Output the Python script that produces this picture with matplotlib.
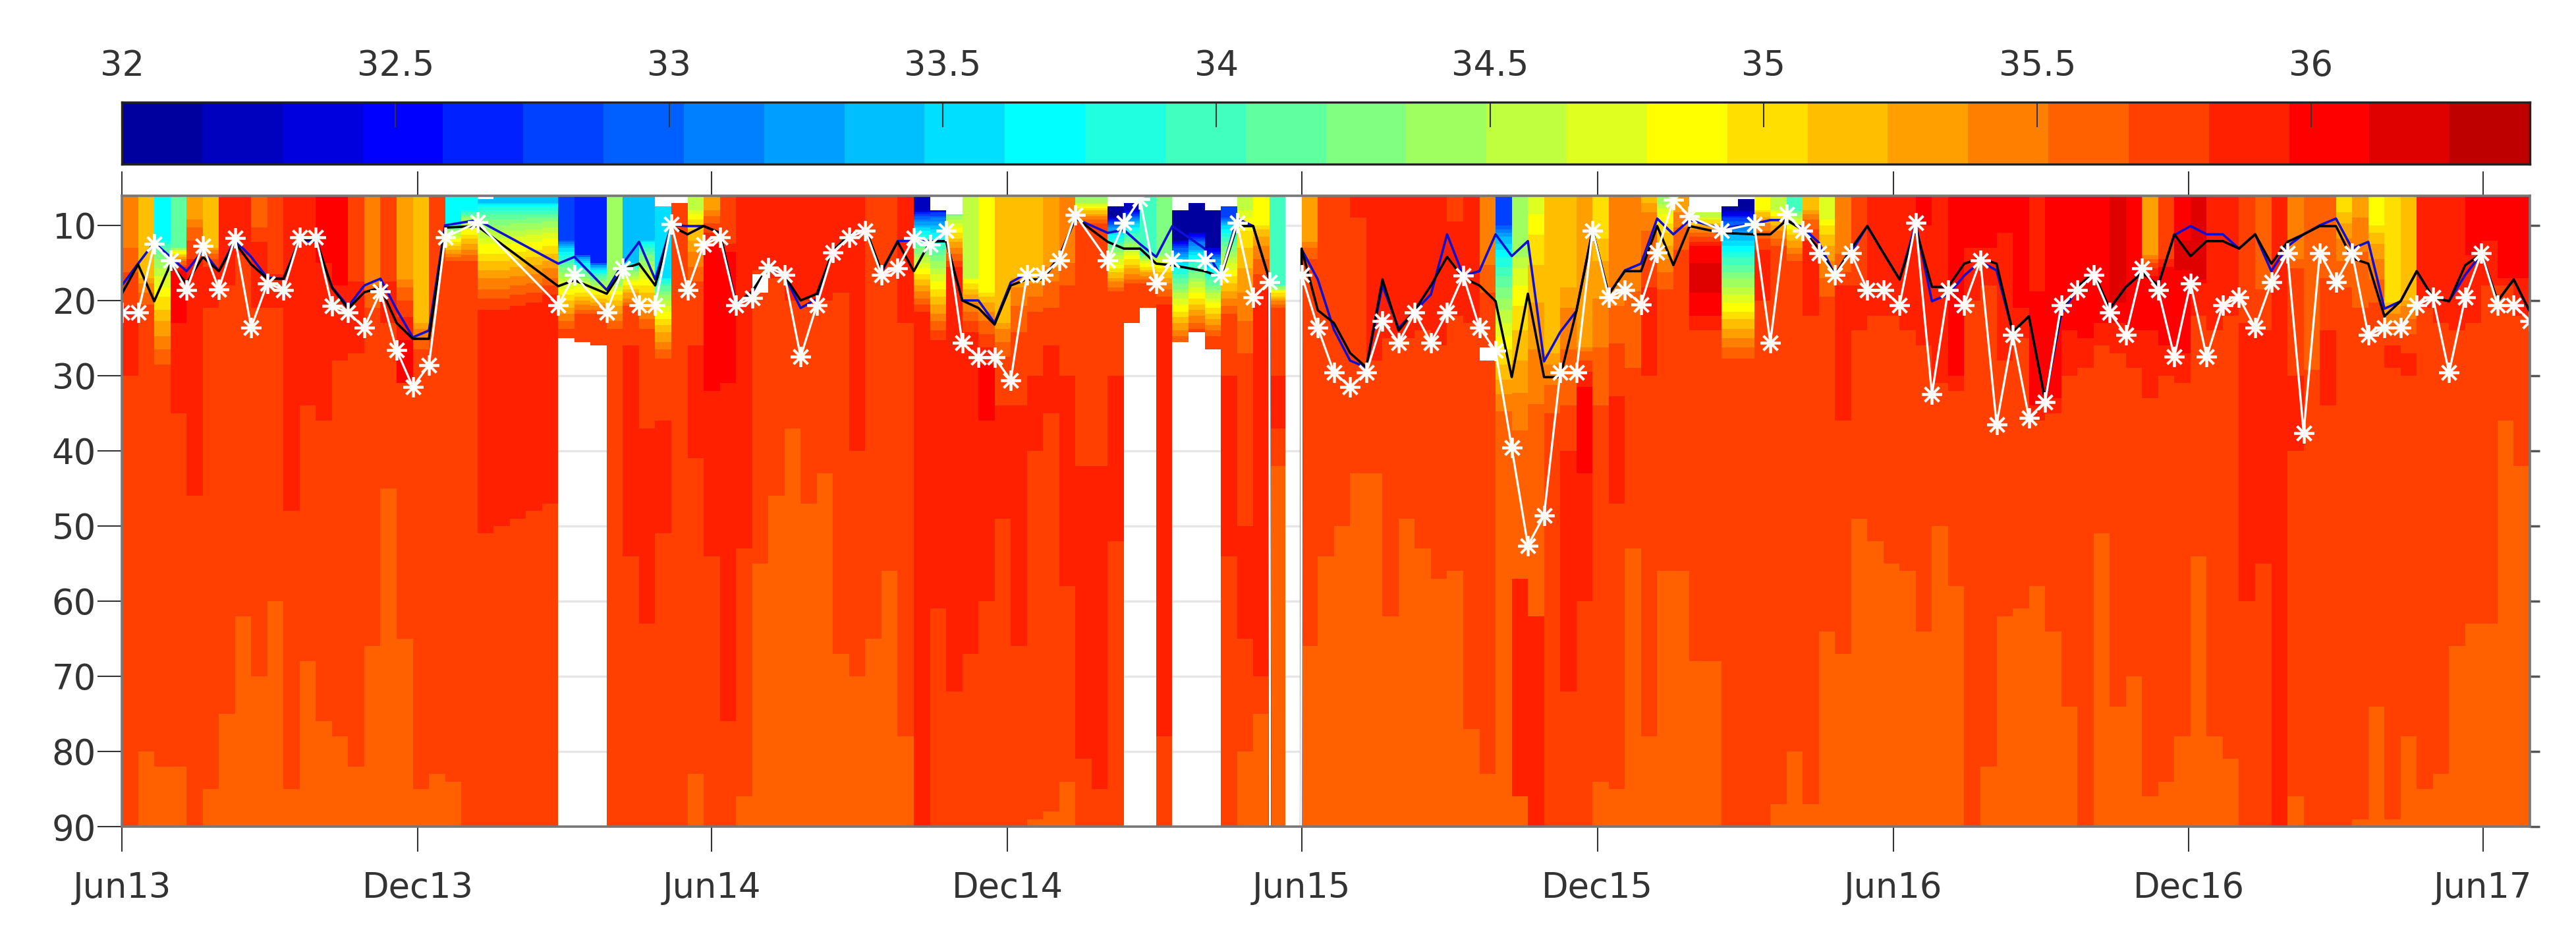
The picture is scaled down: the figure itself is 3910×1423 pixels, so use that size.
import matplotlib
matplotlib.use('Agg')
import matplotlib.pyplot as plt
from matplotlib.colors import ListedColormap, BoundaryNorm
import numpy as np

n = np.nan

# ten-day sections, Jun 2013 onwards
dates = np.datetime64('2013-06-01') + np.arange(150) * np.timedelta64(10, 'D')
date_ticks = np.array(['2013-06-01', '2013-12-01', '2014-06-01', '2014-12-01', '2015-06-01',
                       '2015-12-01', '2016-06-01', '2016-12-01', '2017-06-01'], dtype='datetime64[D]')
date_labels = ['Jun13', 'Dec13', 'Jun14', 'Dec14', 'Jun15', 'Dec15', 'Jun16', 'Dec16', 'Jun17']
depth_ticks = [10, 20, 30, 40, 50, 60, 70, 80, 90]
sal_ticks = [32, 32.5, 33, 33.5, 34, 34.5, 35, 35.5, 36]
sal_labels = ['32', '32.5', '33', '33.5', '34', '34.5', '35', '35.5', '36']

# depth lines
white_depth = [21.6, 21.6, 12.5, 14.7, 18.6, 12.7, 18.5, 11.7, 23.6, 17.7,
               18.6, 11.6, 11.6, 20.7, 21.6, 23.6, 18.8, 26.6, 31.5, 28.6,
               11.6, n, 9.6, n, n, n, n, 20.6, 16.6, n,
               21.6, 15.7, 20.6, 20.6, 9.8, 18.6, 12.6, 11.6, 20.6, 19.7,
               15.6, 16.6, 27.5, 20.6, 13.6, 11.6, 10.7, 16.6, 15.7, 11.7,
               12.6, 10.7, 25.6, 27.6, 27.6, 30.6, 16.6, 16.6, 14.7, 8.6,
               n, 14.7, 9.7, 6.5, 17.7, 14.7, n, 14.7, 16.6, 9.7,
               19.6, 17.6, 2000, 16.6, 23.6, 29.6, 31.5, 29.6, 22.7, 25.6,
               21.6, 25.6, 21.6, 16.7, 23.6, 26.7, 39.6, 52.6, 48.6, 29.6,
               29.6, 10.7, 19.6, 18.6, 20.5, 13.6, 6.6, 8.8, n, 10.7,
               n, 9.8, 25.6, 8.5, 10.7, 13.7, 16.6, 13.7, 18.6, 18.6,
               20.6, 9.7, 32.5, 18.6, 20.6, 14.7, 36.5, 24.6, 35.6, 33.5,
               20.6, 18.6, 16.6, 21.6, 24.6, 15.7, 18.6, 27.5, 17.7, 27.5,
               20.6, 19.6, 23.6, 17.6, 13.7, 37.6, 13.7, 17.6, 13.7, 24.6,
               23.6, 23.6, 20.6, 19.6, 29.6, 19.6, 13.7, 20.6, 20.6, 22.7]
blue_depth = [18, 15.1, 12.3, 14.2, 16.1, 13.4, 16.1, 12, 14.2, 17,
              17.1, 11.9, 12.2, 18.2, 20.8, 18, 17.1, 21.2, 24.9, 24,
              10, n, 9.3, n, n, n, n, 15.1, 14.2, n,
              18.6, 15.1, 12.2, 17.2, 10, 10.1, 10.1, 11, 20.4, 19,
              15.5, 16.7, 21, 19.8, 13.4, 11.3, 10.4, 16.3, 12.1, 12,
              12.1, 12.1, 20, 20, 23, 17.6, 16.4, 16.9, 14.2, 9.1,
              n, 11, 10.6, 12.5, 14.2, 10.1, n, 13.1, 16.7, 9.1,
              10.1, 17.2, 2000, 13.2, 17.2, 23.9, 28, 28.9, 18, 23.7,
              21.4, 19.2, 11.2, 16.7, 16.1, 11.2, 14.1, 12.1, 28.1, 24.2,
              21.4, 10.7, 19.2, 16, 15.1, 9.1, 11.2, 9.3, n, 10.4,
              n, 9.8, 9.3, 9.3, 10.3, 12.3, 16.6, 13.6, 10.1, 13.7,
              17.2, 9.8, 20.1, 19.2, 16.7, 14.8, 16, 24.2, 22.1, 33.2,
              21.8, 18.4, 16.7, 21.1, 18.2, 16.3, 18, 11.3, 10.1, 11.2,
              11.2, 13.1, 11.2, 16.1, 12.8, 11.2, 10, 9.1, 13.1, 12.2,
              21.1, 20.1, 16.1, 19.6, 20.1, 16.6, 13.8, 20.1, 17.2, 21.5]
black_depth = [19.1, 15.2, 20.1, 15.2, 17.7, 14.2, 16.1, 12.3, 15.2, 17.1,
               17.1, 12, 11.8, 18.3, 21.1, 18.9, 18.3, 23, 25.1, 25.1,
               10.3, n, 10.1, n, n, n, n, 18.1, 17.3, n,
               19.1, 15.8, 15.1, 18, 10.1, 11.2, 10.1, 11, 20.5, 18.8,
               15.5, 16.7, 20, 19.1, 13.4, 11.3, 10.4, 16.1, 12.2, 16.1,
               12.2, 12.1, 20, 21, 23.2, 18, 17.2, 17.2, 14.2, 9,
               n, 12.2, 13.1, 13.1, 15.1, 15.3, n, 16.1, 16.9, 10.1,
               10.1, 17.2, 2000, 13.1, 21.3, 23, 27, 28.9, 17.2, 24,
               21.3, 18, 14.2, 17, 18, 20.1, 30.2, 19.1, 30.2, 30.2,
               21.4, 10.7, 19.2, 16.1, 16.1, 10.1, 15.3, 10.1, n, 11,
               n, 11.2, 11.2, 9.3, 10.6, 13.1, 16.6, 13.1, 10.1, 13.7,
               17.2, 10.4, 18.2, 18.2, 15.1, 14.4, 15.1, 24.2, 22.1, 33.2,
               21.3, 18.2, 16.3, 21.1, 18.2, 16.3, 18, 11.2, 14.1, 12.1,
               12.1, 13.1, 11.2, 15.1, 12.2, 11.2, 10.1, 10.1, 14.4, 15.1,
               22.1, 20.1, 16.1, 19.6, 20.1, 15.3, 13.8, 20.1, 17.2, 21.5]

# salinity profile of each section
surf_sal = [35.4, 35.2, 33.7, 34.1, 35.3, 35.2, 35.9, 35.9, 35.6, 35.7,
            35.9, 35.9, 36.0, 36.0, 35.7, 35.4, 35.7, 35.3, 35.2, 35.7,
            33.7, 33.7, 33.4, 33.4, 33.4, 33.4, 33.4, 32.8, 32.7, 32.7,
            34.4, 33.4, 33.4, 33.5, 35.7, 34.6, 35.3, 35.7, 35.9, 35.9,
            35.9, 35.9, 35.9, 35.9, 35.9, 35.9, 35.7, 35.7, 35.9, 32.2,
            32.4, 33.4, 34.6, 34.9, 35.2, 35.2, 35.2, 35.3, 35.4, 34.4,
            34.4, 32.1, 32.2, 34.0, 34.2, 32.1, 32.1, 32.1, 32.8, 34.6,
            34.9, 34.0, 35.7, 35.3, 35.7, 35.7, 35.9, 35.9, 35.9, 35.9,
            35.9, 35.9, 35.7, 35.9, 35.4, 32.8, 34.4, 34.7, 35.2, 35.2,
            35.3, 35.0, 35.4, 35.4, 35.2, 34.4, 35.3, 34.6, 34.6, 32.1,
            32.1, 34.9, 34.6, 34.0, 35.2, 34.7, 35.4, 35.7, 35.9, 35.9,
            35.9, 36.0, 35.9, 36.0, 36.0, 36.0, 36.0, 36.0, 35.9, 36.0,
            36.0, 36.0, 36.0, 36.2, 36.0, 35.3, 35.7, 36.0, 36.2, 35.9,
            35.9, 35.7, 35.6, 35.9, 35.4, 35.6, 35.6, 35.0, 35.3, 34.9,
            35.0, 35.2, 35.9, 35.9, 35.9, 36.0, 36.0, 36.0, 36.0]
grad_top = [12, 17, 12, 13, 9, 13, 6, 6, 10, 16,
            6, 6, 6, 6, 17, 17, 17, 17, 23, 6,
            10, 8, 7, 7, 7, 7, 7, 12, 14, 15,
            18, 15, 12, 17, 6, 8, 8, 12, 6, 6,
            6, 6, 6, 6, 6, 6, 6, 6, 6, 8,
            8, 7, 17, 19, 23, 17, 17, 15, 14, 7,
            7, 9, 8, 14, 14, 12, 11, 13, 9, 8,
            10, 18, 6, 12, 6, 6, 6, 6, 6, 6,
            6, 6, 9, 6, 14, 10, 14, 8, 27, 18,
            26, 11, 19, 15, 7, 7, 8, 9, 9, 8,
            8, 8, 8, 8, 8, 9, 13, 6, 6, 6,
            6, 6, 6, 6, 6, 6, 6, 6, 18, 6,
            6, 6, 6, 20, 6, 14, 14, 6, 17, 6,
            6, 6, 18, 6, 14, 20, 16, 8, 8, 10,
            20, 20, 6, 6, 6, 6, 6, 6, 6]
grad_bot = [24, 21, 29, 16, 16, 16, 6, 6, 14, 17,
            6, 6, 6, 6, 18, 22, 18, 26, 27, 6,
            15, 15, 22, 22, 21.5, 21, 20, 24, 22, 22,
            24, 21, 24, 28, 6, 18, 13, 14, 6, 6,
            6, 6, 6, 6, 6, 6, 6, 6, 6, 22,
            26, 16, 25, 29, 28, 25, 22, 22, 19, 10,
            10, 19, 18, 18, 21, 26, 24, 25, 22, 28,
            20, 21, 6, 15, 6, 6, 6, 6, 6, 6,
            6, 6, 10, 6, 20, 36, 40, 38, 36, 36,
            32, 36, 38, 32, 21, 19, 14, 13, 13, 28,
            28, 14, 13, 15, 13, 20, 17, 6, 6, 6,
            6, 6, 6, 6, 6, 6, 6, 6, 20, 6,
            6, 6, 6, 21, 6, 17, 16, 6, 18, 6,
            6, 6, 19, 6, 16, 38, 18, 19, 23, 21,
            25, 25, 6, 6, 6, 6, 6, 6, 6]
red_bot = [0, 0, 0, 23, 0, 0, 0, 0, 0, 0,
           0, 0, 15, 18, 0, 0, 0, 31, 0, 0,
           0, 0, 0, 0, 0, 0, 0, 0, 0, 0,
           0, 0, 0, 0, 0, 0, 32, 31, 0, 0,
           0, 0, 0, 0, 0, 0, 0, 0, 0, 0,
           0, 0, 0, 36, 0, 0, 0, 0, 0, 0,
           0, 0, 0, 0, 0, 0, 0, 0, 0, 0,
           0, 0, 0, 0, 0, 0, 0, 0, 0, 0,
           0, 0, 0, 0, 0, 0, 0, 0, 0, 0,
           43, 0, 0, 0, 0, 0, 0, 22, 22, 0,
           0, 0, 0, 0, 0, 0, 0, 0, 0, 0,
           0, 10, 0, 30, 13, 13, 11, 21, 34, 33,
           24, 25, 23, 23, 24, 24, 26, 27, 18, 0,
           0, 0, 0, 0, 0, 0, 0, 0, 0, 0,
           0, 0, 0, 0, 0, 14, 12, 17, 17]
fe_bot = [30, 0, 0, 35, 46, 21, 18, 14, 21, 21,
          48, 34, 36, 28, 27, 0, 23, 31, 0, 0,
          0, 0, 51, 50, 49, 48, 47, 0, 0, 0,
          0, 54, 63, 51, 0, 41, 54, 76, 53, 16,
          17, 20, 20, 20, 19, 40, 0, 0, 23, 99,
          61, 72, 67, 60, 49, 66, 40, 35, 58, 81,
          85, 52, 0, 0, 78, 0, 0, 0, 54, 65,
          70, 37, 0, 0, 0, 0, 9, 28, 25, 25,
          24, 26, 22, 23, 0, 0, 86, 90, 0, 72,
          60, 0, 47, 0, 30, 0, 0, 24, 24, 0,
          0, 20, 0, 0, 22, 0, 36, 24, 22, 22,
          24, 26, 31, 32, 20, 18, 28, 25, 36, 35,
          30, 29, 26, 27, 29, 33, 30, 31, 22, 24,
          22, 60, 55, 95, 40, 0, 34, 0, 0, 0,
          29, 30, 21, 23, 24, 23, 18, 18, 22]
orange_top = [99, 80, 82, 82, 99, 85, 75, 62, 70, 60,
              85, 68, 76, 78, 82, 66, 45, 65, 85, 83,
              84, 99, 99, 99, 99, 99, 99, 99, 99, 99,
              99, 99, 99, 99, 99, 83, 99, 99, 86, 55,
              46, 37, 47, 43, 67, 70, 65, 56, 78, 99,
              99, 99, 99, 99, 99, 99, 89, 88, 84, 99,
              99, 90, 99, 99, 99, 99, 99, 99, 99, 80,
              75, 42, 99, 66, 54, 50, 43, 43, 62, 49,
              53, 57, 56, 77, 83, 36, 40, 38, 99, 99,
              99, 84, 85, 53, 78, 56, 56, 68, 68, 99,
              99, 99, 87, 80, 87, 64, 67, 49, 52, 55,
              56, 64, 50, 58, 99, 82, 62, 61, 58, 64,
              74, 99, 51, 74, 70, 86, 84, 78, 54, 78,
              81, 99, 99, 99, 86, 99, 99, 99, 89, 74,
              89, 78, 85, 83, 66, 63, 63, 36, 42]

# deeper lenses of 35.9 water
lens_cols = [31, 32, 33, 35, 54, 55, 56, 57, 58, 59, 60, 61, 68, 69, 71, 86, 87, 89, 92,
             106, 107, 131, 132, 134, 136, 140, 141]
lens_tops = [26, 37, 36, 26, 34, 34, 30, 26, 30, 42, 42, 30, 30, 50, 30, 57, 62, 40, 38,
             18, 18, 23, 24, 30, 24, 26, 27]
dark_cols = [97, 98, 127]
dark_tops = [15, 15, 12]
dark_bots = [19, 19, 16]

# missing data
top_gap_cols = [22, 33, 34, 50, 51, 61, 62, 65, 66, 67, 68, 97, 98, 99, 100]
top_gap_depth = [6.5, 7.5, 7, 8, 8.5, 7.5, 7, 8, 7, 8, 7.5, 8.2, 8.2, 7.6, 6.6]
bot_gap_cols = [27, 28, 29, 62, 63, 65, 66, 67]
bot_gap_depth = [25.1, 25.4, 26, 23, 21.1, 25.5, 24.3, 26.5]
hole_cols = [39, 84]
hole_tops = [16.5, 26.2]
hole_bots = [19, 28]
empty_col = 72


def jet30():
    # same steps as the MATLAB jet(30) map
    m = 30
    u = np.r_[np.arange(1, 9) / 8, np.ones(7), np.arange(8, 0, -1) / 8]
    rows = np.arange(5, 5 + len(u))
    cols = np.zeros((m, 3))
    for c, shift in zip(range(3), [8, 0, -8]):
        keep = (rows + shift >= 1) & (rows + shift <= m)
        cols[rows[keep] + shift - 1, c] = u[keep]
    return cols


levels = 32 + np.arange(31) * 4.4 / 30
cmap = ListedColormap(jet30())
norm = BoundaryNorm(levels, 30)

z_edges = np.arange(6, 90.01, 0.25)
z = (z_edges[:-1] + z_edges[1:]) / 2
field = np.zeros((len(z), 149))
for i in range(149):
    s = np.full(len(z), 35.7)
    s[z >= orange_top[i]] = 35.6
    fe_top = grad_bot[i]
    if i in lens_cols:
        fe_top = lens_tops[lens_cols.index(i)]
    s[(z >= fe_top) & (z < fe_bot[i])] = 35.9
    s[(z >= grad_bot[i]) & (z < red_bot[i])] = 36.0
    below = z >= grad_bot[i]
    core = s[below][0]
    top, bot = grad_top[i], grad_bot[i]
    s[z < top] = surf_sal[i]
    mid = (z >= top) & (z < bot)
    if mid.any():
        s[mid] = surf_sal[i] + (core - surf_sal[i]) * ((z[mid] - top) / (bot - top)) ** 0.6
    field[:, i] = s
for c, t, b in zip(dark_cols, dark_tops, dark_bots):
    field[(z >= t) & (z < b), c] = 36.2
for c, d in zip(top_gap_cols, top_gap_depth):
    field[z < d, c] = np.nan
for c, d in zip(bot_gap_cols, bot_gap_depth):
    field[z >= d, c] = np.nan
for c, t, b in zip(hole_cols, hole_tops, hole_bots):
    field[(z >= t) & (z < b), c] = np.nan
field[:, empty_col] = np.nan

W, H = 3910, 1423
text_col = '#333333'
fig = plt.figure(figsize=(W / 100, H / 100), dpi=100)
plt.rcParams['font.family'] = 'DejaVu Sans'


def px_axes(x0, y0, x1, y1):
    return fig.add_axes([x0 / W, 1 - y1 / H, (x1 - x0) / W, (y1 - y0) / H])


ax = px_axes(185, 297, 3840, 1254)
ax.set_axisbelow(True)
ax.grid(axis='y', color='#e6e6e6', linewidth=2.5)
ax.pcolormesh(dates, z_edges, field, cmap=cmap, norm=norm, zorder=2)


def draw_line(values, **kw):
    vals = np.array(values, dtype=float)
    ok = ~np.isnan(vals)
    ax.plot(dates[ok], vals[ok], zorder=3, **kw)


draw_line(blue_depth, color='#1010d0', linewidth=2.6)
draw_line(black_depth, color='black', linewidth=2.6)
draw_line(white_depth, color='white', linewidth=2.4, marker=(8, 2, 0), markersize=22,
          markeredgewidth=2.7, markeredgecolor='white')

ax.set_xlim(dates[0], dates[-1])
ax.set_ylim(90, 6.07)
ax.set_yticks(depth_ticks)
ax.set_xticks(date_ticks)
ax.set_xticklabels(date_labels)
ax.tick_params(axis='both', direction='out', length=27, width=1.5, color=text_col,
               labelcolor=text_col, labelsize=38)
ax.tick_params(axis='x', top=True, pad=21)
ax.tick_params(axis='y', pad=1)
for sp in ax.spines.values():
    sp.set_color('#777777')
    sp.set_linewidth(2.6)
    sp.set_zorder(5)

right = ax.secondary_yaxis('right')
right.set_yticks(depth_ticks)
right.set_yticklabels([])
right.tick_params(direction='out', length=11, width=2.5, color='#555555')
right.spines['right'].set_visible(False)

cax = px_axes(185, 155, 3840, 249)
cax.pcolormesh(levels, [0, 1], (levels[:-1] + levels[1:]).reshape(1, -1) / 2, cmap=cmap, norm=norm)
cax.set_xlim(32, 36.4)
cax.set_yticks([])
cax.xaxis.set_ticks_position('top')
cax.set_xticks(sal_ticks)
cax.set_xticklabels(sal_labels)
cax.tick_params(axis='x', direction='in', length=27, width=1.5, color=text_col,
                labelcolor=text_col, labelsize=38, pad=21)
for sp in cax.spines.values():
    sp.set_color('#222222')
    sp.set_linewidth(2.4)

fig.savefig('out.png', dpi=100, facecolor='white')
plt.close(fig)
